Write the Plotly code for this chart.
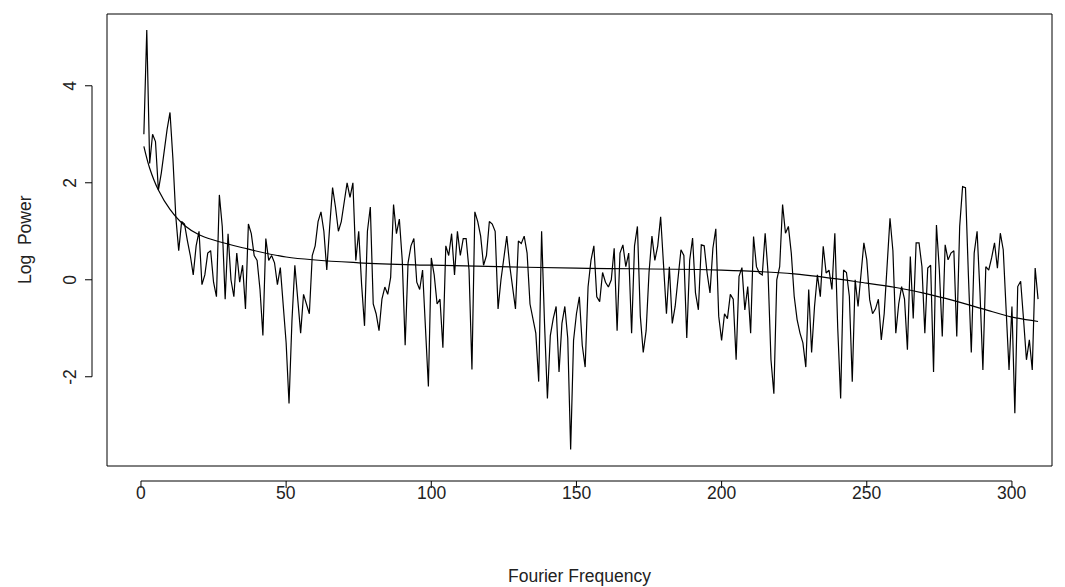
import plotly.graph_objects as go

# Log periodogram values, Fourier frequencies 1..309
log_power = [
    3.0, 5.15, 2.4, 3.0, 2.85, 1.85, 2.2, 2.7, 3.1, 3.45,
    2.5, 1.3, 0.6, 1.2, 1.15, 0.8, 0.5, 0.1, 0.7, 1.0,
    -0.1, 0.1, 0.55, 0.6, -0.05, -0.35, 1.75, 1.1, -0.4, 0.95,
    0.0, -0.35, 0.55, -0.05, 0.3, -0.6, 1.15, 0.95, 0.5, 0.4,
    -0.2, -1.15, 0.85, 0.4, 0.5, 0.35, -0.1, 0.25, -0.5, -1.3,
    -2.55, -0.85, 0.3, -0.4, -1.1, -0.3, -0.5, -0.7, 0.5, 0.7,
    1.2, 1.4, 1.0, 0.2, 1.1, 1.9, 1.5, 1.0, 1.2, 1.6,
    2.0, 1.7, 2.0, 0.4, 1.0, -0.1, -0.95, 1.0, 1.5, -0.5,
    -0.7, -1.05, -0.4, -0.15, -0.3, 0.05, 1.55, 0.95, 1.25, 0.4,
    -1.35, 0.35, 0.7, 0.85, -0.05, -0.2, 0.2, -1.0, -2.2, 0.45,
    0.1, -0.5, -0.4, -1.4, 0.7, 0.5, 0.95, 0.1, 1.0, 0.5,
    0.85, 0.85, 0.2, -1.85, 1.4, 1.2, 0.9, 0.3, 0.5, 1.2,
    1.15, 1.0, -0.6, 0.0, 0.5, 0.9, 0.3, -0.1, -0.6, 0.8,
    0.75, 0.9, 0.55, -0.5, -0.8, -1.1, -2.1, 1.0, -0.9, -2.45,
    -1.15, -0.8, -0.55, -1.9, -0.9, -0.55, -1.2, -3.5, -1.25, -0.7,
    -0.35, -1.35, -1.8, -0.15, 0.4, 0.7, -0.35, -0.45, 0.15, -0.05,
    -0.15, 0.0, 0.65, -1.05, 0.55, 0.72, 0.27, 0.55, -1.1, 0.7,
    1.1, -0.75, -1.5, -1.05, 0.15, 0.9, 0.4, 0.7, 1.3, 0.2,
    -0.7, 0.27, -0.9, -0.55, 0.07, 0.62, 0.5, -1.2, 0.4, 0.86,
    -0.27, -0.62, 0.72, 0.7, 0.14, -0.27, 0.65, 1.05, -0.75, -1.25,
    -0.7, -0.8, -0.3, -0.4, -1.65, 0.07, 0.25, -0.62, -0.14, -1.1,
    0.89, 0.27, 0.14, 0.1, 0.96, 0.14, -1.65, -2.35, 0.0, 0.27,
    1.55, 0.96, 1.1, 0.55, -0.34, -0.82, -1.1, -1.3, -1.8, -0.2,
    -1.5, -0.55, 0.1, -0.35, 0.69, 0.14, 0.2, -0.2, 0.96, -1.0,
    -2.45, 0.2, 0.15, -0.34, -2.1, 0.0, -0.55, 0.14, 0.76, 0.41,
    -0.41, -0.7, -0.6, -0.4, -1.24, -0.7, 0.41, 1.27, 0.6, -1.1,
    -0.5, -0.14, -0.4, -1.44, 0.48, -0.8, 0.76, 0.76, 0.27, -1.1,
    0.24, 0.3, -1.9, 1.13, 0.2, -1.17, 0.72, 0.41, 0.55, 0.6,
    -1.17, 1.1, 1.92, 1.9, 0.1, -1.5, 0.55, 1.0, -0.27, -1.86,
    0.27, 0.2, 0.45, 0.76, 0.24, 0.96, 0.62, -0.69, -1.86, -0.55,
    -2.75, -0.14, -0.03, -0.82, -1.65, -1.24, -1.86, 0.24, -0.4,
]
frequency = list(range(1, len(log_power) + 1))

# Smooth fitted curve, read at selected frequencies
smooth_freq = [1, 3, 6, 10, 15, 20, 25, 35, 50, 75, 100, 150, 200, 225,
               250, 260, 270, 280, 290, 300, 309]
smooth_val = [2.75, 2.3, 1.85, 1.45, 1.12, 0.93, 0.82, 0.66, 0.47, 0.35,
              0.3, 0.24, 0.2, 0.12, -0.07, -0.16, -0.28, -0.43, -0.6, -0.77, -0.86]

x_ticks = [0, 50, 100, 150, 200, 250, 300]
y_ticks = [-2, 0, 2, 4]
x_title = "Fourier Frequency"
y_title = "Log  Power"

# page body has an 8px margin; figure sized so the frame lands at 107..1052 x 14..466
W, H = 1057, 579
L, R, T, B = 99, 13, 6, 121
pw, ph = W - L - R, H - T - B

FONT = "Liberation Sans, Arial, sans-serif"
FS = 17.5
TXT = "#222"
LW = 1.2

fig = go.Figure()
fig.add_trace(go.Scatter(x=frequency, y=log_power, mode="lines",
                         line=dict(color="black", width=LW), hoverinfo="skip"))
fig.add_trace(go.Scatter(x=smooth_freq, y=smooth_val, mode="lines",
                         line=dict(color="black", width=LW, shape="spline", smoothing=1.0),
                         hoverinfo="skip"))

shapes = []
# plot frame
shapes.append(dict(type="rect", xref="paper", yref="paper", x0=0, x1=1, y0=0, y1=1,
                   line=dict(color="black", width=1)))
# x axis (offset below frame like R)
xa_y = -15 / ph
xt_y = -22 / ph
shapes.append(dict(type="line", xref="x", yref="paper", x0=x_ticks[0], x1=x_ticks[-1],
                   y0=xa_y, y1=xa_y, line=dict(color="black", width=1)))
for t in x_ticks:
    shapes.append(dict(type="line", xref="x", yref="paper", x0=t, x1=t, y0=xa_y, y1=xt_y,
                       line=dict(color="black", width=1)))
# y axis
ya_x = -15 / pw
yt_x = -22 / pw
shapes.append(dict(type="line", xref="paper", yref="y", x0=ya_x, x1=ya_x,
                   y0=y_ticks[0], y1=y_ticks[-1], line=dict(color="black", width=1)))
for t in y_ticks:
    shapes.append(dict(type="line", xref="paper", yref="y", x0=ya_x, x1=yt_x, y0=t, y1=t,
                       line=dict(color="black", width=1)))

annotations = []
for t in x_ticks:
    annotations.append(dict(x=t, xref="x", y=-27 / ph, yref="paper", text=str(t),
                            showarrow=False, xanchor="center", yanchor="middle",
                            font=dict(family=FONT, size=FS, color=TXT)))
for t in y_ticks:
    annotations.append(dict(x=-37 / pw, xref="paper", y=t, yref="y", text=str(t),
                            showarrow=False, xanchor="center", yanchor="middle",
                            textangle=-90, font=dict(family=FONT, size=FS, color=TXT)))
annotations.append(dict(x=0.5, xref="paper", y=-110 / ph, yref="paper", text=x_title,
                        showarrow=False, xanchor="center", yanchor="middle",
                        font=dict(family=FONT, size=FS, color=TXT)))
annotations.append(dict(x=-82 / pw, xref="paper", y=0.5, yref="paper", text=y_title,
                        showarrow=False, xanchor="center", yanchor="middle",
                        textangle=-90, font=dict(family=FONT, size=FS, color=TXT)))

fig.update_layout(
    width=W, height=H,
    margin=dict(l=L, r=R, t=T, b=B, pad=0),
    paper_bgcolor="white", plot_bgcolor="white",
    showlegend=False,
    xaxis=dict(range=[-11.7, 313.8], showgrid=False, zeroline=False,
               showticklabels=False, ticks="", showline=False),
    yaxis=dict(range=[-3.84, 5.48], showgrid=False, zeroline=False,
               showticklabels=False, ticks="", showline=False),
    shapes=shapes,
    annotations=annotations,
)

fig.write_html("out.html")
